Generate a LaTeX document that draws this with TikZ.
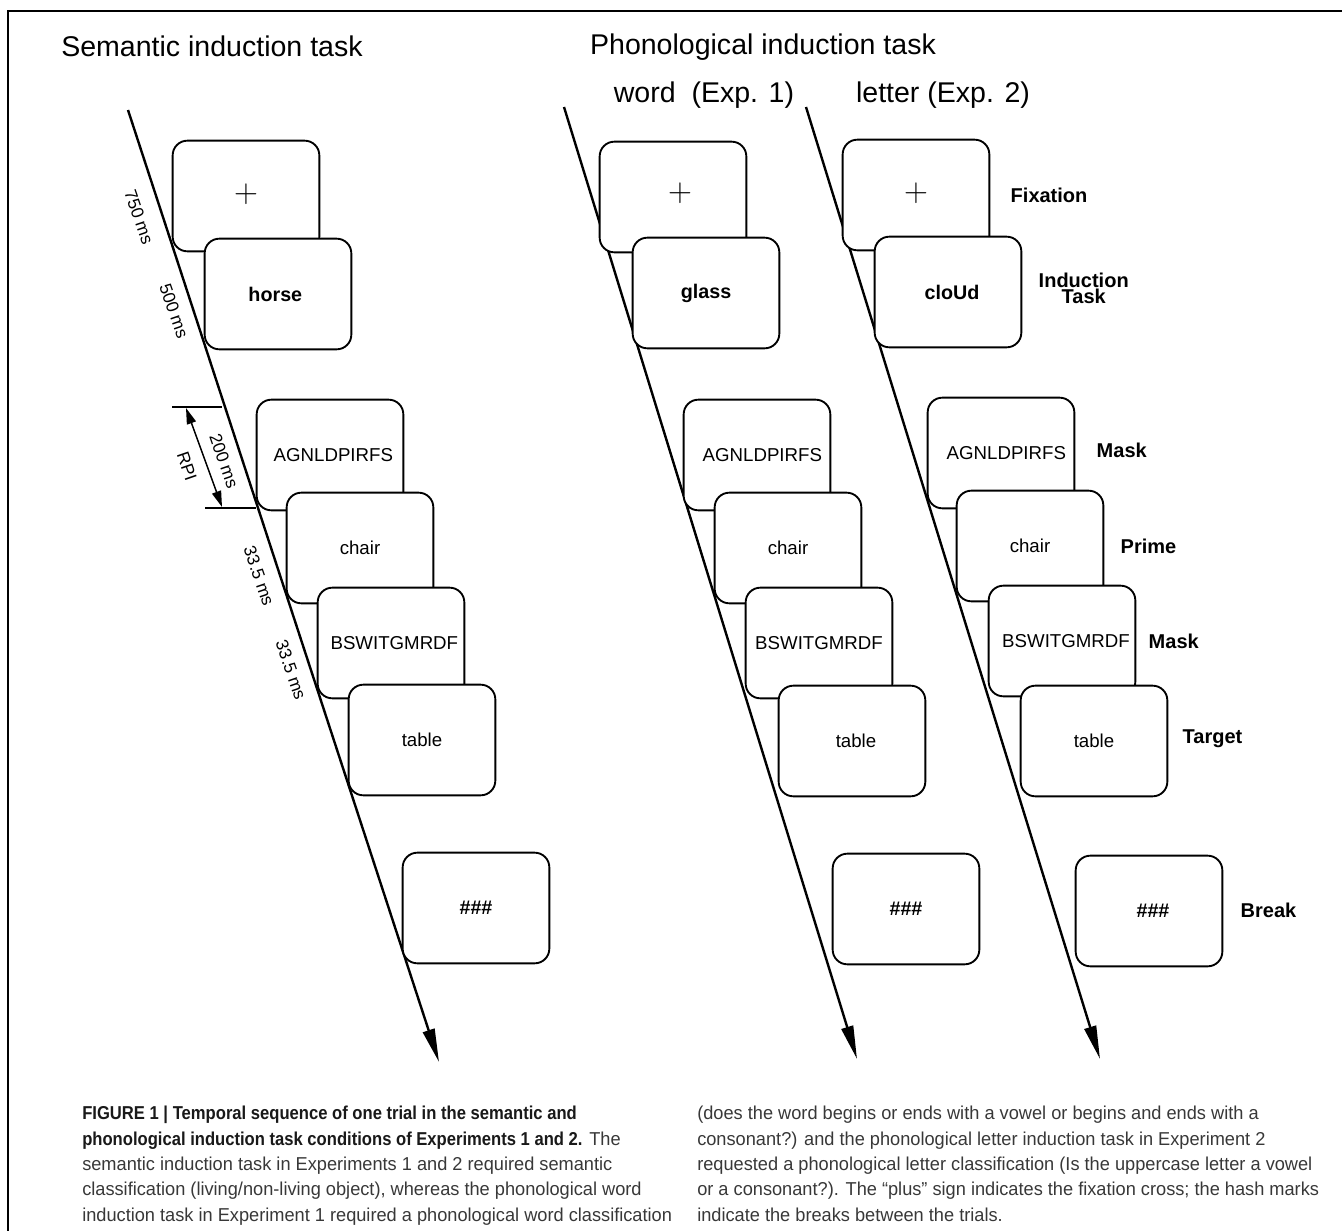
\documentclass[tikz,border=0pt]{standalone}
\usepackage{fontspec}
\setmainfont{Liberation Sans}
\newfontfamily\capfont[FakeStretch=0.975,BoldFeatures={FakeStretch=0.89}]{Liberation Sans}
\usepackage{xcolor}
\usepackage{tikz}
\usetikzlibrary{arrows.meta}
\definecolor{captext}{HTML}{383838}

\begin{document}
\begin{tikzpicture}[x=0.75pt,y=-0.75pt,
	screen/.style={draw,line width=1.4pt,fill=white,rounded corners=11pt,
		minimum width=110pt,minimum height=83pt,inner sep=0pt,
		font=\fontsize{14}{16}\selectfont},
	boldscreen/.style={screen,font=\fontsize{14.8}{16}\selectfont\bfseries},
	cross/.style={font=\fontsize{29}{29}\selectfont},
	head/.style={font=\fontsize{21.4}{24}\selectfont},
	side/.style={anchor=west,font=\fontsize{15}{12}\selectfont\bfseries},
	ms/.style={font=\fontsize{13}{14}\selectfont,rotate=-71,inner sep=0pt},
	axis/.style={line width=1.8pt,-{Triangle[length=25pt,width=9pt]}},
	rpi/.style={line width=1.1pt,{Triangle[length=12pt,width=7pt]}-{Triangle[length=12pt,width=7pt]}}]
	\useasboundingbox (0,0) rectangle (1342,1231);
	% frame
	\coordinate (f1) at (8,1231);
	\coordinate (f2) at (8,11);
	\coordinate (f3) at (1342,11);
	\draw[line width=1.5pt] (f1) -- (f2) -- (f3);
	% headings
	\node[head] (h1) at (212,46) {Semantic induction task};
	\node[head] (h2) at (763,47) {Phonological induction task};
	\node[head] (h3) at (704,95) {word\ \ (Exp. 1)};
	\node[head] (h4) at (943,95) {letter (Exp. 2)};
	% time axes
	\coordinate (sa) at (128,110);
	\coordinate (sb) at (439,1062);
	\coordinate (wa) at (564,107);
	\coordinate (wb) at (857,1059);
	\coordinate (la) at (806,107);
	\coordinate (lb) at (1100,1059);
	\draw[axis] (sa) -- (sb);
	\draw[axis] (wa) -- (wb);
	\draw[axis] (la) -- (lb);
	% semantic
	\node[screen] (s0) at (246,196) {};
	\node[cross] (s0t) at (246,194) {$+$};
	\node[boldscreen] (s1) at (278,294) {\hspace{-4pt}horse};
	\node[screen] (s2) at (330,455) {\hspace{5pt}AGNLDPIRFS};
	\node[screen] (s3) at (360,548) {chair};
	\node[screen] (s4) at (391,643) {\hspace{5pt}BSWITGMRDF};
	\node[screen] (s5) at (422,740) {table};
	\node[boldscreen] (s6) at (476,908) {\#\#\#};
	% word
	\node[screen] (w0) at (673,197) {};
	\node[cross] (w0t) at (680,193) {$+$};
	\node[boldscreen] (w1) at (706,293) {glass};
	\node[screen] (w2) at (757,455) {\hspace{8pt}AGNLDPIRFS};
	\node[screen] (w3) at (788,548) {chair};
	\node[screen] (w4) at (819,643) {BSWITGMRDF};
	\node[screen] (w5) at (852,741) {\hspace{6pt}table};
	\node[boldscreen] (w6) at (906,909) {\#\#\#};
	% letter
	\node[screen] (l0) at (916,195) {};
	\node[cross] (l0t) at (916,193) {$+$};
	\node[boldscreen] (l1) at (948,292) {\hspace{6pt}cloUd};
	\node[screen] (l2) at (1001,453) {\hspace{8pt}AGNLDPIRFS};
	\node[screen] (l3) at (1030,546) {chair};
	\node[screen] (l4) at (1062,641) {\hspace{6pt}BSWITGMRDF};
	\node[screen] (l5) at (1094,741) {table};
	\node[boldscreen] (l6) at (1149,911) {\hspace{6pt}\#\#\#};
	% labels
	\node[side] (n0) at (1006,195) {Fixation};
	\node[side,align=center] (n1) at (1034,288) {Induction\\Task\hspace{8pt}};
	\node[side] (n2) at (1092,450) {Mask};
	\node[side] (n3) at (1116,546) {Prime};
	\node[side] (n4) at (1144,641) {Mask};
	\node[side] (n5) at (1178,739) {Target};
	\node[side] (n6) at (1236,910) {Break};
	% durations
	\node[ms] (t1) at (139,217) {750 ms};
	\node[ms] (t2) at (174,311) {500 ms};
	\node[ms] (t3) at (224,461) {200 ms};
	\node[ms] (t4) at (259,576) {33.5 ms};
	\node[ms] (t5) at (291,670) {33.5 ms};
	\node[ms] (t6) at (187,466) {RPI};
	\coordinate (r1) at (172,407);
	\coordinate (r2) at (222,407);
	\coordinate (r3) at (205,508);
	\coordinate (r4) at (256,508);
	\coordinate (r5) at (186,408);
	\coordinate (r6) at (222,507);
	\draw[line width=1pt] (r1) -- (r2);
	\draw[line width=1pt] (r3) -- (r4);
	\draw[rpi] (r5) -- (r6);
	% caption
	\node[anchor=north west,inner sep=0pt,align=left,text=captext,
		font=\capfont\fontsize{14}{19}\selectfont] (cap1) at (82,1106)
		{\textcolor{black!90}{\bfseries FIGURE 1 | Temporal sequence of one trial in the semantic and}\\
		\textcolor{black!90}{\bfseries phonological induction task conditions of Experiments 1 and 2.} The\\
		semantic induction task in Experiments 1 and 2 required semantic\\
		classification (living/non-living object), whereas the phonological word\\
		induction task in Experiment 1 required a phonological word classification};
	\node[anchor=north west,inner sep=0pt,align=left,text=captext,
		font=\capfont\fontsize{14}{19}\selectfont] (cap2) at (697,1106)
		{(does the word begins or ends with a vowel or begins and ends with a\\
		consonant?) and the phonological letter induction task in Experiment 2\\
		requested a phonological letter classification (Is the uppercase letter a vowel\\
		or a consonant?). The “plus” sign indicates the fixation cross; the hash marks\\
		indicate the breaks between the trials.};
\end{tikzpicture}
\end{document}
